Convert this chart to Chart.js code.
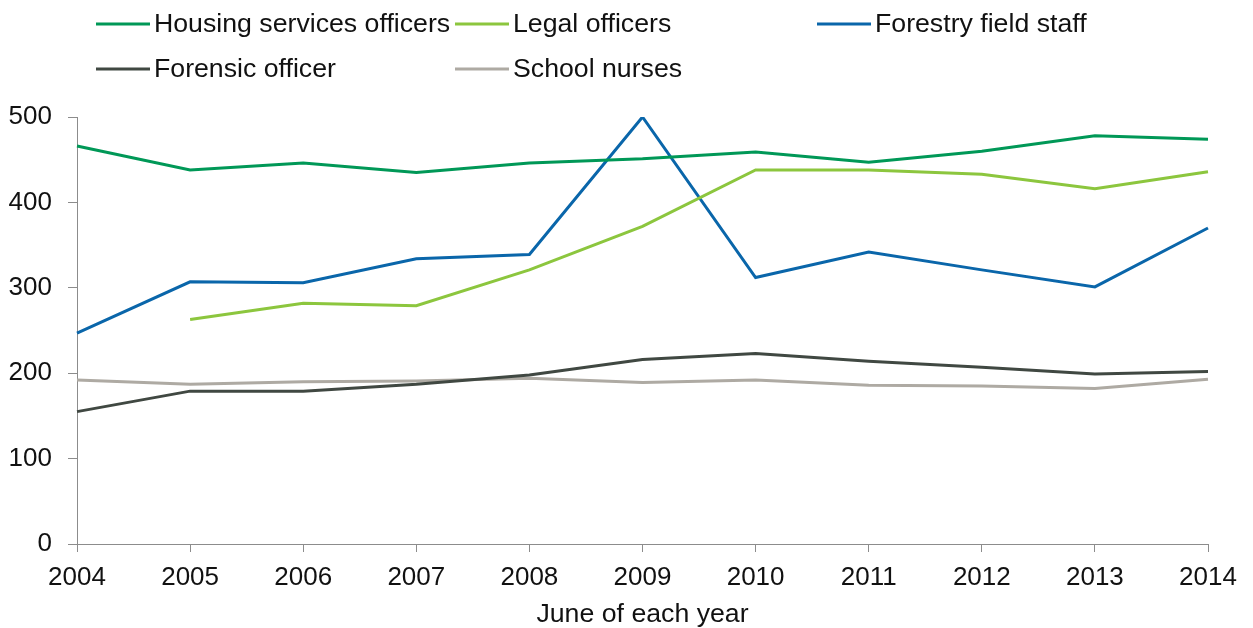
<!DOCTYPE html>
<html>
<head>
<meta charset="utf-8">
<script src="https://cdn.jsdelivr.net/npm/chart.js@4/dist/chart.umd.min.js"></script>
<style>
  html, body { margin: 0; padding: 0; background: #ffffff; }
  #wrap { width: 1253px; height: 628px; position: relative; }
</style>
</head>
<body>
<div id="wrap"><canvas id="chart"></canvas></div>
<script>
// Staff numbers by occupation, June of each year
const years = ['2004', '2005', '2006', '2007', '2008', '2009', '2010', '2011', '2012', '2013', '2014'];
const housingOfficers = [466, 438, 446, 435, 446, 451, 459, 447, 460, 478, 474];
const legalOfficers   = [null, 263, 282, 279, 321, 372, 438, 438, 433, 416, 436];
const forestryStaff   = [247, 307, 306, 334, 339, 500, 312, 342, 321, 301, 370];
const forensicOfficer = [155, 179, 179, 187, 198, 216, 223, 214, 207, 199, 202];
const schoolNurses    = [192, 187, 190, 191, 194, 189, 192, 186, 185, 182, 193];
const yTicks = [0, 100, 200, 300, 400, 500];

const FONT = "'Liberation Sans', Arial, sans-serif";
const AXIS_GREY = '#8c8c8c';
const TEXT = '#111111';

function series(label, data, color) {
  return {
    label, data,
    borderColor: color,
    backgroundColor: color,
    borderWidth: 3,
    pointRadius: 0,
    pointHoverRadius: 0,
    tension: 0,
    fill: false
  };
}

// Legend laid out in fixed columns above the plot
const columnLegend = {
  id: 'columnLegend',
  afterDraw(chart) {
    const ctx = chart.ctx;
    const slots = [
      { x: 96, y: 24 }, { x: 455, y: 24 }, { x: 817, y: 24 },
      { x: 96, y: 69 }, { x: 455, y: 69 }
    ];
    ctx.save();
    ctx.font = '26.7px ' + FONT;
    ctx.textBaseline = 'middle';
    ctx.textAlign = 'left';
    chart.data.datasets.forEach((ds, i) => {
      const s = slots[i];
      ctx.strokeStyle = ds.borderColor;
      ctx.lineWidth = 3;
      ctx.beginPath();
      ctx.moveTo(s.x, s.y);
      ctx.lineTo(s.x + 54, s.y);
      ctx.stroke();
      ctx.fillStyle = TEXT;
      ctx.fillText(ds.label, s.x + 58, s.y + 1);
    });
    ctx.restore();
  }
};

new Chart(document.getElementById('chart'), {
  type: 'line',
  data: {
    labels: years,
    datasets: [
      series('Housing services officers', housingOfficers, '#009857'),
      series('Legal officers', legalOfficers, '#8cc63e'),
      series('Forestry field staff', forestryStaff, '#0a66aa'),
      series('Forensic officer', forensicOfficer, '#404842'),
      series('School nurses', schoolNurses, '#aeaaa3')
    ]
  },
  options: {
    responsive: true,
    maintainAspectRatio: false,
    animation: false,
    events: [],
    layout: { padding: { top: 117, left: 9, right: 45, bottom: 0 } },
    plugins: {
      legend: { display: false },
      tooltip: { enabled: false }
    },
    scales: {
      x: {
        type: 'category',
        offset: false,
        afterFit(scale) { scale.height = 84; },
        border: { display: true, color: AXIS_GREY, width: 1 },
        grid: { drawOnChartArea: false, drawTicks: true, tickLength: 8, color: AXIS_GREY },
        ticks: { color: TEXT, font: { family: FONT, size: 26 }, padding: 10, maxRotation: 0, autoSkip: false },
        title: { display: true, text: 'June of each year', color: TEXT, font: { family: FONT, size: 26.7 }, padding: { top: 0, bottom: -3 } }
      },
      y: {
        min: 0,
        max: 500,
        afterBuildTicks(scale) { scale.ticks = yTicks.map(v => ({ value: v })); },
        afterFit(scale) { scale.width = 68; },
        border: { display: true, color: AXIS_GREY, width: 1 },
        grid: { drawOnChartArea: false, drawTicks: true, tickLength: 9, color: AXIS_GREY },
        ticks: { color: TEXT, font: { family: FONT, size: 26 }, padding: 16 }
      }
    }
  },
  plugins: [columnLegend]
});
</script>
</body>
</html>
